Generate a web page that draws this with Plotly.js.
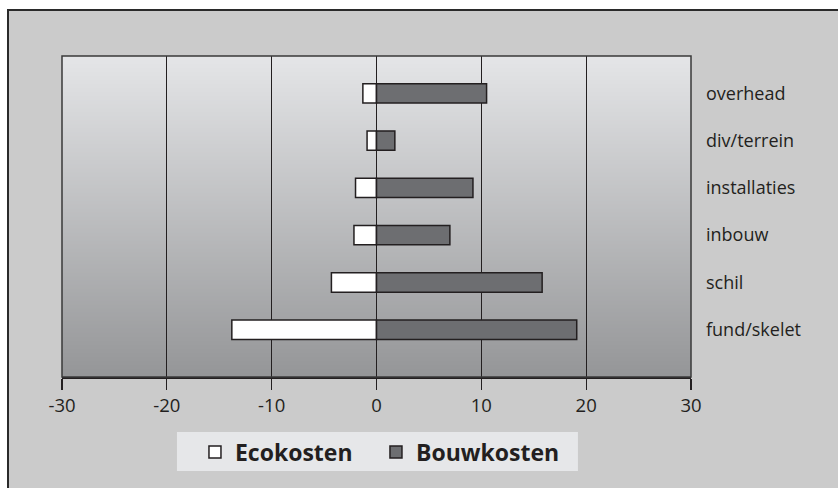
<!DOCTYPE html>
<html><head><meta charset="utf-8">
<script src="https://cdn.plot.ly/plotly-3.0.1.min.js"></script>
<style>
html,body{margin:0;padding:0;background:#fff;width:838px;height:488px;overflow:hidden}
#wrap{position:absolute;left:7px;top:9px;width:831px;height:479px;border-left:2px solid #2a2a2a;border-top:2px solid #2a2a2a;box-sizing:border-box;background:#cbcbcb}
#chart{width:829px;height:477px}
</style></head><body>
<div id="wrap"><div id="chart"></div></div>
<script>
var categories = ['fund/skelet','schil','inbouw','installaties','div/terrein','overhead'];
var ecokosten = [-13.8, -4.3, -2.15, -2.0, -0.9, -1.3];
var bouwkosten = [19.1, 15.8, 7.0, 9.2, 1.75, 10.5];
var xTicks = [-30,-20,-10,0,10,20,30];

var shapes = [];
var N = 80;
function lerp(a,b,t){return Math.round(a+(b-a)*t);}
var gTop = [228,229,231], gBot = [148,149,152];
for (var i=0;i<N;i++){
  var t=(i+0.5)/N;
  var c='rgb('+lerp(gTop[0],gBot[0],t)+','+lerp(gTop[1],gBot[1],t)+','+lerp(gTop[2],gBot[2],t)+')';
  shapes.push({type:'rect',xref:'x domain',yref:'y domain',x0:0,x1:1,y0:1-i/N,y1:1-(i+1)/N-0.003,
    fillcolor:c,line:{width:0},layer:'below'});
}
shapes.push({type:'rect',xref:'x domain',yref:'y domain',x0:0,x1:1,y0:0,y1:1,
  line:{color:'#3a3a3a',width:1.5},fillcolor:'rgba(0,0,0,0)',layer:'above'});
// legend background box
shapes.push({type:'rect',xref:'paper',yref:'paper',x0:0.1828,x1:0.8203,y0:-0.1713,y1:-0.2928,
  fillcolor:'#e6e7e9',line:{width:0},layer:'below'});

var data = [
  {type:'bar',orientation:'h',name:'Ecokosten',y:categories,x:ecokosten,legendwidth:136,
   marker:{color:'#ffffff',line:{color:'#231f20',width:1.5}}},
  {type:'bar',orientation:'h',name:'Bouwkosten',y:categories,x:bouwkosten,
   marker:{color:'#6d6e71',line:{color:'#231f20',width:1.5}}}
];
var layout = {
  width:829,height:477,
  margin:{l:53,r:147,t:45,b:111},
  paper_bgcolor:'#cbcbcb',plot_bgcolor:'rgba(0,0,0,0)',
  barmode:'relative',bargap:0.59,
  font:{family:'"Open Sans", Lato, sans-serif',color:'#231f20'},
  xaxis:{range:[-30,30],tickvals:xTicks,ticktext:xTicks.map(String),
    showgrid:true,gridcolor:'#231f20',gridwidth:1.3,zeroline:true,zerolinecolor:'#231f20',zerolinewidth:1.3,
    showline:true,linecolor:'#231f20',linewidth:1.5,ticks:'outside',ticklen:11,tickcolor:'#231f20',tickwidth:1.2,
    tickfont:{size:18.5,color:'#231f20'},fixedrange:true},
  yaxis:{type:'category',categoryorder:'array',categoryarray:categories,range:[-1,5.79],side:'right',
    showgrid:false,zeroline:false,showline:false,ticks:'',ticklabelstandoff:14,
    tickfont:{size:18,color:'#231f20'},fixedrange:true},
  showlegend:true,
  legend:{orientation:'h',x:0.2114,xanchor:'left',y:-0.2336,yanchor:'middle',bgcolor:'rgba(0,0,0,0)',
    font:{size:23,weight:700,color:'#231f20'},traceorder:'normal',itemwidth:30},
  shapes:shapes
};
Plotly.newPlot('chart',data,layout,{displayModeBar:false,staticPlot:true});
</script></body></html>
